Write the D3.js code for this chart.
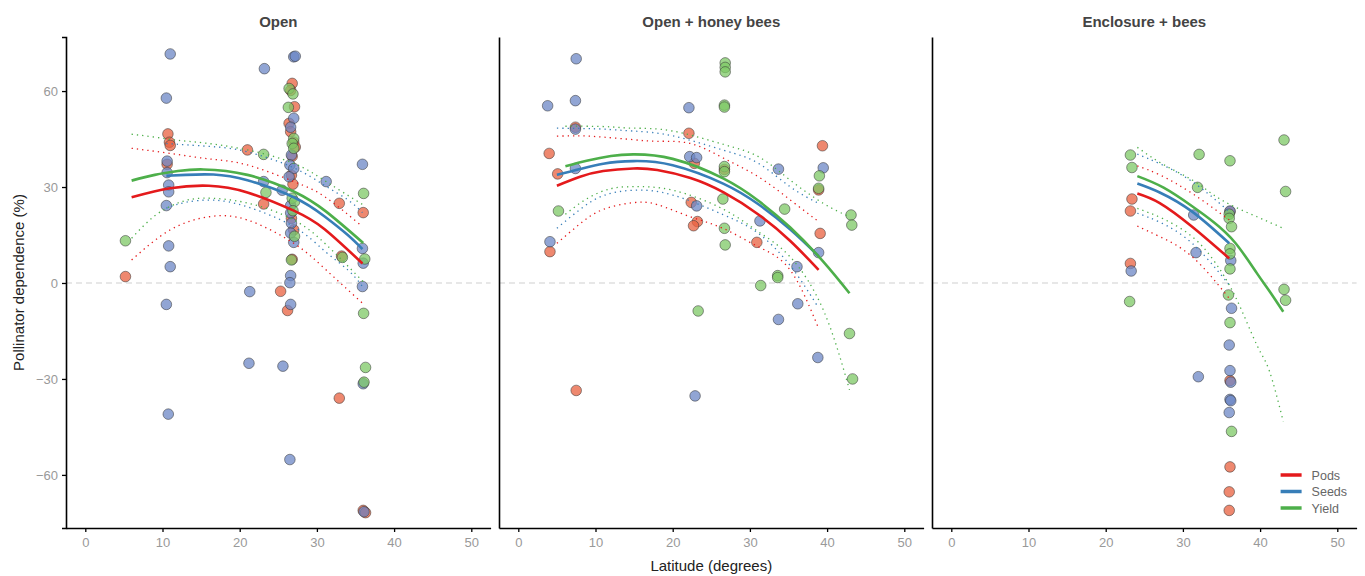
<!DOCTYPE html>
<html lang="en">
<head>
    <meta charset="UTF-8">
    <title>Pollinator dependence by latitude</title>
    <script src="https://d3js.org/d3.v7.min.js"></script>
    <style>
        body { margin: 0; background: #fff; }
        svg { font-family: "Liberation Sans", Arial, Helvetica, sans-serif; display: block; }
        .tick text { fill: #999; font-size: 13px; }
        .tick line { stroke: #000; stroke-width: 1.3; }
        .domain { stroke: #000; stroke-width: 1.6; }
    </style>
</head>
<body>
    <svg width="1365" height="576"></svg>
    <script>
        // facets, series and ticks
        const facets = ["Open", "Open + honey bees", "Enclosure + bees"];
        const seriesNames = ["Pods", "Seeds", "Yield"];
        const xTicks = [0, 10, 20, 30, 40, 50];
        const yTicks = [-60, -30, 0, 30, 60];

        // observations: [latitude, pollinator dependence %]
        const openPods = [[10.7, 46.6], [10.9, 44], [11.0, 43], [10.6, 37.1], [5.2, 2.0], [21.0, 41.6], [23.1, 24.7],
            [25.3, -2.6], [32.9, 24.9], [33.2, 8.4], [32.9, -36.0], [36.0, 22.0], [36.0, -71.1], [36.3, -71.8],
            [26.8, 62.4], [26.6, 60.2], [27.1, 55.1], [26.4, 49.9], [26.6, 47.3], [27.0, 44.0], [27.2, 42.5],
            [26.8, 39.6], [26.7, 33.7], [26.9, 30.9], [26.7, 20.2], [27.0, 16.6], [26.8, 7.4], [26.2, -8.6]];
        const openSeeds = [[11.0, 71.6], [10.5, 57.8], [10.6, 38.1], [10.6, 34.5], [10.8, 30.6], [10.8, 28.5],
            [10.5, 24.2], [10.8, 11.6], [11.0, 5.1], [10.5, -6.7], [10.75, -41.0], [23.2, 67.0], [23.1, 31.7],
            [21.3, -2.7], [21.2, -25.1], [25.6, -26.0], [31.2, 31.7], [35.9, 37.1], [35.9, 10.8], [36.0, 6.2],
            [35.9, -1.1], [36.0, -31.5], [36.1, -71.5], [27.0, 70.7], [27.2, 70.9], [27.0, 51.5], [26.6, 48.7],
            [26.7, 40.0], [26.5, 36.9], [27.0, 35.8], [26.4, 33.2], [25.5, 29.0], [26.6, 24.2], [26.6, 21.9],
            [26.7, 18.7], [26.6, 15.6], [27.0, 12.7], [26.6, 2.3], [26.5, 0.1], [26.6, -6.7], [26.5, -55.2]];
        const openYield = [[5.2, 13.2], [23.1, 40.2], [23.4, 28.3], [33.3, 8.0], [36.05, 28.0], [36.2, 7.5],
            [36.05, -9.5], [36.3, -26.4], [36.1, -31.0], [26.4, 60.8], [26.9, 59.1], [26.3, 54.9], [27.0, 45.2],
            [26.8, 43.6], [27.0, 42.1], [26.8, 26.5], [27.1, 25.4], [26.9, 22.6], [27.1, 14.6], [26.7, 7.2]];

        const honeyPods = [[7.4, 48.7], [4.0, 40.5], [5.1, 34.1], [4.1, 9.8], [7.5, -33.6], [22.1, 46.8], [22.8, 37.4],
            [22.4, 25.2], [23.2, 19.2], [22.7, 17.9], [26.7, 35.5], [30.9, 12.7], [39.4, 42.9], [38.9, 29.1],
            [39.1, 15.5]];
        const honeySeeds = [[3.8, 55.4], [7.5, 70.1], [7.4, 57.0], [7.4, 48.1], [7.4, 35.8], [4.1, 12.9],
            [22.1, 54.8], [22.2, 39.5], [23.1, 39.2], [23.1, 24.1], [22.9, -35.3], [31.3, 19.4], [33.7, 35.6],
            [33.7, -11.4], [36.1, 5.1], [36.2, -6.5], [39.5, 36.0], [38.9, 9.5], [38.8, -23.3]];
        const honeyYield = [[5.2, 22.5], [23.3, -8.75], [26.8, 68.8], [26.8, 67.4], [26.8, 66.0], [26.7, 55.6],
            [26.7, 55.0], [26.7, 36.4], [26.7, 34.8], [26.5, 26.25], [26.7, 17.1], [26.8, 11.9], [34.5, 23.1],
            [33.6, 2.3], [33.6, 1.7], [31.4, -0.8], [39.0, 33.5], [38.9, 29.6], [43.1, 21.25], [43.2, 18.1],
            [42.9, -15.8], [43.3, -30.0]];

        const enclPods = [[23.4, 26.25], [23.2, 22.5], [23.2, 6.1], [36.1, 22.3], [36.1, -30.5], [36.1, -57.5],
            [36.0, -65.3], [36.0, -71.1]];
        const enclSeeds = [[23.3, 3.75], [31.4, 21.25], [31.7, 9.5], [32.0, -29.3], [36.1, 22.5], [36.2, 7.0],
            [36.3, -7.9], [36.0, -19.4], [36.1, -27.4], [36.2, -31.0], [36.1, -36.4], [36.2, -36.8], [36.0, -40.5]];
        const enclYield = [[23.2, 40.0], [23.4, 36.1], [23.1, -5.8], [32.1, 40.2], [31.9, 29.9], [36.1, 38.2],
            [36.0, 21.5], [36.0, 20.2], [36.3, 17.6], [36.1, 10.8], [36.1, 9.1], [36.1, 4.4], [35.9, -3.75],
            [36.1, -12.4], [36.3, -46.4], [43.1, 44.7], [43.3, 28.6], [43.1, -2.0], [43.3, -5.4]];

        // fitted curves: [latitude, lower, fit, upper]
        const openPodsFit = [[6, 7.2, 26.8, 42.1], [11, 16.6, 29.6, 40.5], [16, 20.7, 30.4, 38.8], [21, 19.7, 28.3, 36.9],
            [27, 12.4, 22.6, 31.7], [31, 4.5, 16.8, 27], [35.9, -6.3, 6.1, 17.6]];
        const openSeedsFit = [[10.5, 23.4, 33.5, 43.6], [13, 25.2, 33.8, 43.2], [16.6, 25.9, 33.9, 42.6], [21, 23.8, 32.1, 41],
            [27, 17.6, 26.8, 36], [31, 10, 20.8, 30.5], [34, 4.1, 15, 26], [35.9, -1.1, 10.6, 22]];
        const openYieldFit = [[6, 14, 32, 46.5], [9, 21, 33.8, 45.6], [12, 25, 35, 44.6], [15.3, 26.5, 35.5, 43.8],
            [21, 25, 33.8, 41.6], [27, 19.7, 28.6, 37.4], [31.2, 12, 22.3, 31.7], [36, 0.4, 12.5, 24.4]];

        const honeyPodsFit = [[5, 12.4, 30.4, 45.9], [8, 18.5, 33.2, 46], [11, 23, 35, 45.6], [14.9, 25.1, 35.8, 44.8],
            [18, 24.5, 35.3, 44.3], [22.3, 20.7, 32.8, 43.6], [26.6, 17, 28.3, 39], [31.1, 11.3, 21.4, 33.2],
            [35.2, 4.1, 13.2, 26], [38.9, -14.2, 4.1, 19.2]];
        const honeySeedsFit = [[5, 17.1, 33.8, 48.4], [8, 23, 35.6, 48.3], [11, 27.3, 37.3, 48.1], [14.9, 29, 38.1, 47.5],
            [20, 27.5, 36.8, 46], [26.6, 21.3, 31, 41.5], [31.1, 15.5, 24.6, 37.4], [35.2, 5.5, 16.8, 30.1],
            [38.9, -7.8, 8.4, 24.9]];
        const honeyYieldFit = [[6.1, 21.5, 36.5, 49], [9, 26.5, 38.3, 49], [12, 29.5, 39.7, 48.8], [14.9, 30.1, 40.2, 48.4],
            [20, 29, 38.8, 47.5], [26.6, 23, 32.6, 43.3], [31.1, 16, 25.7, 39.5], [35.2, 8.2, 17.4, 32.2],
            [39.5, -8.4, 6.7, 24.9], [42.9, -33.4, -3.2, 20.7]];

        const enclPodsFit = [[24.1, 17.8, 28, 36.6], [27, 14.5, 25, 33.8], [31.2, 8.2, 17.6, 28], [36, -4.8, 7.7, 19.7]];
        const enclSeedsFit = [[24.1, 21.8, 31.1, 40.3], [27, 19, 28.3, 37.3], [31.2, 12.4, 22.3, 31.7], [36, -0.6, 12.4, 22.3]];
        const enclYieldFit = [[24.1, 23.3, 33.4, 42.4], [27.5, 20, 29.8, 37], [31.2, 14.5, 24, 32.2], [34, 7, 19, 27.5],
            [36.8, -4.3, 12.5, 23.7], [39.6, -19.5, 3, 20.7], [41.2, -27.5, -2.5, 19], [43, -43.3, -9, 17.1]];

        const points = [
            [openPods, openSeeds, openYield],
            [honeyPods, honeySeeds, honeyYield],
            [enclPods, enclSeeds, enclYield]
        ];
        const fits = [
            [openPodsFit, openSeedsFit, openYieldFit],
            [honeyPodsFit, honeySeedsFit, honeyYieldFit],
            [enclPodsFit, enclSeedsFit, enclYieldFit]
        ];

        const lineColors = ["#e41a1c", "#377eb8", "#4daf4a"];
        const pointColors = ["#e8603f", "#6c87c6", "#7dc866"];

        const margin = { top: 37, left: 66, bottom: 48 };
        const panelW = 424.6, gap = 8.4;
        const panelH = 576 - margin.top - margin.bottom;

        const svg = d3.select("svg");

        const x = d3.scaleLinear().domain([-2.5, 52.5]).range([0, panelW]);
        const y = d3.scaleLinear().domain([-76.6, 76.9]).range([panelH, 0]);

        facets.forEach((name, i) => {
            const g = svg.append("g")
                .attr("transform", `translate(${margin.left + i * (panelW + gap)},${margin.top})`);

            // zero reference line
            g.append("line")
                .attr("x1", 0).attr("x2", panelW)
                .attr("y1", y(0)).attr("y2", y(0))
                .attr("stroke", "#cfcfcf")
                .attr("stroke-width", 1.1)
                .attr("stroke-dasharray", "6,4");

            // points
            points[i].forEach((pts, s) => {
                g.selectAll(".pt" + s)
                    .data(pts)
                  .enter().append("circle")
                    .attr("cx", d => x(d[0]))
                    .attr("cy", d => y(d[1]))
                    .attr("r", 5.3)
                    .attr("fill", pointColors[s])
                    .attr("fill-opacity", 0.75)
                    .attr("stroke", "#333")
                    .attr("stroke-opacity", 0.65)
                    .attr("stroke-width", 0.8);
            });

            // fitted curves with dotted bands
            fits[i].forEach((rows, s) => {
                [1, 3].forEach(k => {
                    g.append("path")
                        .datum(rows)
                        .attr("fill", "none")
                        .attr("stroke", lineColors[s])
                        .attr("stroke-width", 1.3)
                        .attr("stroke-dasharray", "1.3,4")
                        .attr("d", d3.line().curve(d3.curveNatural).x(d => x(d[0])).y(d => y(d[k])));
                });
                g.append("path")
                    .datum(rows)
                    .attr("fill", "none")
                    .attr("stroke", lineColors[s])
                    .attr("stroke-width", 2.6)
                    .attr("d", d3.line().curve(d3.curveNatural).x(d => x(d[0])).y(d => y(d[2])));
            });

            // axes
            g.append("g")
                .attr("transform", `translate(0,${panelH})`)
                .call(d3.axisBottom(x).tickValues(xTicks).tickSize(4).tickSizeOuter(0).tickPadding(6));

            const yAxis = d3.axisLeft(y).tickValues(yTicks).tickSizeOuter(0);
            if (i === 0) {
                yAxis.tickSize(4).tickPadding(4);
            } else {
                yAxis.tickSize(0).tickFormat("");
            }
            g.append("g").call(yAxis);

            // strip title
            g.append("text")
                .attr("x", panelW / 2)
                .attr("y", -10)
                .attr("text-anchor", "middle")
                .attr("font-size", 15)
                .attr("font-weight", "bold")
                .attr("fill", "#444")
                .text(name);

            // legend in last panel
            if (i === facets.length - 1) {
                seriesNames.forEach((sn, s) => {
                    const ly = 438 + s * 16.5;
                    g.append("line")
                        .attr("x1", panelW - 76).attr("x2", panelW - 55)
                        .attr("y1", ly).attr("y2", ly)
                        .attr("stroke", lineColors[s])
                        .attr("stroke-width", 3.5);
                    g.append("text")
                        .attr("x", panelW - 45)
                        .attr("y", ly + 4.5)
                        .attr("font-size", 12.5)
                        .attr("fill", "#666")
                        .text(sn);
                });
            }
        });

        // axis titles
        svg.append("text")
            .attr("x", margin.left + (3 * panelW + 2 * gap) / 2)
            .attr("y", 571)
            .attr("text-anchor", "middle")
            .attr("font-size", 15)
            .attr("fill", "#222")
            .text("Latitude (degrees)");

        svg.append("text")
            .attr("transform", `translate(24,${margin.top + panelH / 2}) rotate(-90)`)
            .attr("text-anchor", "middle")
            .attr("font-size", 15)
            .attr("fill", "#222")
            .text("Pollinator dependence (%)");
    </script>
</body>
</html>
